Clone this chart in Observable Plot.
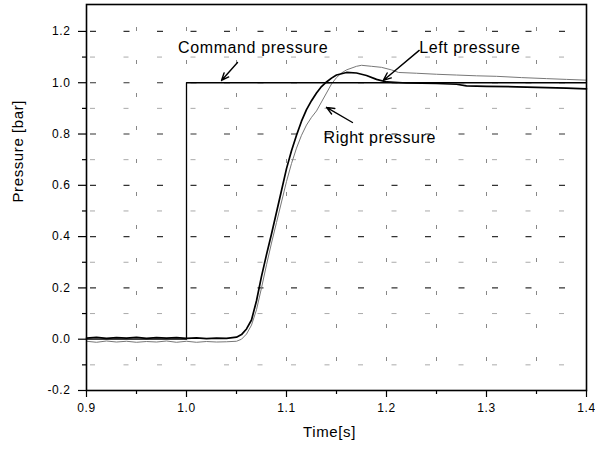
<!DOCTYPE html>
<html><head><meta charset="utf-8">
<script src="https://cdn.jsdelivr.net/npm/d3@7"></script>
<script src="https://cdn.jsdelivr.net/npm/@observablehq/plot@0.6"></script>
<style>body{margin:0;background:#fff} svg{display:block} #chart svg text{letter-spacing:0.6px}</style>
</head><body><div id="chart"></div>
<script>
// Command pressure (step)
const tCmd = [0.9, 1.0, 1.0, 1.4];
const vCmd = [0.0, 0.0, 1.0, 1.0];

// Left pressure (black)
const tLeft = [0.900,0.910,0.920,0.930,0.940,0.950,0.960,0.970,0.980,0.990,1.000,1.010,1.020,1.030,1.040,1.050,1.055,1.060,1.065,1.070,1.075,1.080,1.085,1.090,1.095,1.100,1.105,1.110,1.115,1.120,1.125,1.130,1.135,1.140,1.145,1.150,1.160,1.170,1.180,1.190,1.200,1.220,1.250,1.270,1.280,1.300,1.330,1.360,1.380,1.400];
const vLeft = [0.004,0.007,0.003,0.006,0.004,0.007,0.003,0.006,0.004,0.006,0.003,0.005,0.002,0.004,0.003,0.008,0.018,0.040,0.075,0.150,0.245,0.330,0.410,0.495,0.580,0.665,0.735,0.795,0.850,0.895,0.930,0.960,0.985,1.003,1.018,1.030,1.040,1.038,1.028,1.013,1.003,0.999,0.997,0.994,0.988,0.986,0.984,0.981,0.979,0.976];

// Right pressure (grey)
const tRight = [0.900,0.910,0.920,0.930,0.940,0.950,0.960,0.970,0.980,0.990,1.000,1.010,1.020,1.030,1.040,1.050,1.055,1.060,1.065,1.070,1.075,1.080,1.085,1.090,1.095,1.100,1.105,1.110,1.115,1.120,1.125,1.130,1.135,1.140,1.145,1.150,1.155,1.160,1.170,1.175,1.185,1.195,1.205,1.212,1.230,1.250,1.270,1.290,1.310,1.335,1.360,1.380,1.400];
const vRight = [-0.008,-0.012,-0.007,-0.011,-0.008,-0.012,-0.009,-0.011,-0.007,-0.012,-0.008,-0.012,-0.009,-0.011,-0.010,-0.008,0.000,0.020,0.055,0.115,0.200,0.290,0.375,0.455,0.535,0.615,0.685,0.745,0.795,0.835,0.865,0.890,0.925,0.960,0.995,1.020,1.038,1.050,1.064,1.068,1.064,1.060,1.050,1.040,1.037,1.033,1.030,1.027,1.025,1.020,1.016,1.013,1.010];

// Ticks and grid
const xMajor = [0.9, 1.0, 1.1, 1.2, 1.3, 1.4];
const xMinor = [0.95, 1.05, 1.15, 1.25, 1.35];
const yMajor = [-0.2, 0.0, 0.2, 0.4, 0.6, 0.8, 1.0, 1.2];
const yMinor = [-0.1, 0.1, 0.3, 0.5, 0.7, 0.9, 1.1];
const xGrid = [0.95, 1.0, 1.05, 1.1, 1.15, 1.2, 1.25, 1.3, 1.35];
const yGridMajor = [0.2, 0.4, 0.6, 0.8, 1.0, 1.2];
const yGridMinor = [-0.1, 0.1, 0.3, 0.5, 0.7, 0.9, 1.1];

// Annotations
const labels = ["Command pressure", "Left pressure", "Right pressure"];
const labelT = [0.9916, 1.2327, 1.137];
const labelV = [1.136, 1.134, 0.785];
const arrowT1 = [1.051, 1.2327, 1.166];
const arrowV1 = [1.079, 1.126, 0.845];
const arrowT2 = [1.035, 1.1968, 1.140];
const arrowV2 = [1.009, 1.009, 0.904];

const cmd = tCmd.map((t, i) => ({t, v: vCmd[i]}));
const left = tLeft.map((t, i) => ({t, v: vLeft[i]}));
const right = tRight.map((t, i) => ({t, v: vRight[i]}));
const ann = labels.map((s, i) => ({s, t: labelT[i], v: labelV[i]}));
const arr = arrowT1.map((t, i) => ({x1: t, y1: arrowV1[i], x2: arrowT2[i], y2: arrowV2[i]}));

const chart = Plot.plot({
  width: 595, height: 452,
  marginLeft: 86, marginRight: 9, marginTop: 4, marginBottom: 62,
  style: {fontFamily: "Arial, 'Liberation Sans', sans-serif", background: "white", color: "black", overflow: "visible"},
  x: {domain: [0.9, 1.4]},
  y: {domain: [-0.2, 1.305]},
  marks: [
    Plot.ruleY(yGridMinor, {stroke: "#aaa", strokeWidth: 1, strokeDasharray: "5,28.5", strokeDashoffset: 29.5}),
    Plot.ruleY(yGridMajor, {stroke: "#333", strokeWidth: 1.2, strokeDasharray: "6,27.5", strokeDashoffset: 29.5}),
    Plot.ruleX(xGrid, {stroke: "#888", strokeWidth: 1, strokeDasharray: "4,29", strokeDashoffset: 10}),
    Plot.axisY(yMajor, {tickSize: 8, tickPadding: 8, tickFormat: d => d.toFixed(1), fontSize: 12, label: null, strokeWidth: 1.2}),
    Plot.axisY(yMinor, {tickSize: 4, tickFormat: () => "", label: null, strokeWidth: 1.2}),
    Plot.axisX(xMajor, {tickSize: 7, tickPadding: 6, tickFormat: d => d.toFixed(1), fontSize: 12, label: null, strokeWidth: 1.2}),
    Plot.axisX(xMinor, {tickSize: 4, tickFormat: () => "", label: null, strokeWidth: 1.2}),
    Plot.line(right, {x: "t", y: "v", stroke: "#777", strokeWidth: 1}),
    Plot.line(cmd, {x: "t", y: "v", stroke: "black", strokeWidth: 1.3}),
    Plot.line(left, {x: "t", y: "v", stroke: "black", strokeWidth: 1.7}),
    Plot.arrow(arr, {x1: "x1", y1: "y1", x2: "x2", y2: "y2", stroke: "black", strokeWidth: 1.4, headLength: 9, headAngle: 45}),
    Plot.text(ann, {x: "t", y: "v", text: "s", textAnchor: "start", fontSize: 16, fill: "black"}),
    Plot.text(["Pressure [bar]"], {frameAnchor: "left", dx: -68, dy: 5, rotate: -90, fontSize: 15, fill: "black"}),
    Plot.text(["Time[s]"], {frameAnchor: "bottom", dy: 46, dx: -7, fontSize: 15, fill: "black"}),
    Plot.frame({stroke: "black", strokeWidth: 1.6})
  ]
});
document.getElementById("chart").appendChild(chart);
</script>
</body></html>
